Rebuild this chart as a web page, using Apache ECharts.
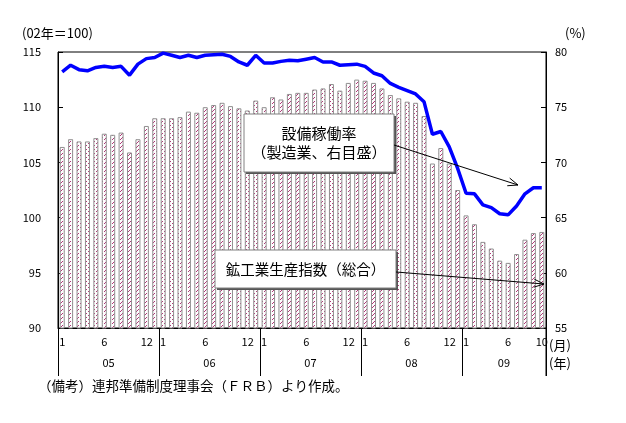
<!DOCTYPE html>
<html><head><meta charset="utf-8">
<script src="https://cdn.jsdelivr.net/npm/echarts@6/dist/echarts.min.js"></script>
<style>html,body{margin:0;padding:0;background:#fff}#c{width:626px;height:423px}</style>
</head><body><div id="c"></div>
<script>
// ---- data ----
const years = ['05', '06', '07', '08', '09'];
const monthsPerYear = [12, 12, 12, 12, 10];
const categories = [
  '2005/1','2005/2','2005/3','2005/4','2005/5','2005/6','2005/7','2005/8','2005/9','2005/10','2005/11','2005/12',
  '2006/1','2006/2','2006/3','2006/4','2006/5','2006/6','2006/7','2006/8','2006/9','2006/10','2006/11','2006/12',
  '2007/1','2007/2','2007/3','2007/4','2007/5','2007/6','2007/7','2007/8','2007/9','2007/10','2007/11','2007/12',
  '2008/1','2008/2','2008/3','2008/4','2008/5','2008/6','2008/7','2008/8','2008/9','2008/10','2008/11','2008/12',
  '2009/1','2009/2','2009/3','2009/4','2009/5','2009/6','2009/7','2009/8','2009/9','2009/10'
];
const shownMonths = ['1', '6', '12'];
const production = [
  106.4, 107.1, 106.9, 106.9, 107.2, 107.6, 107.5, 107.7, 105.9, 107.1, 108.3, 109.0,
  109.0, 109.0, 109.1, 109.6, 109.5, 110.0, 110.2, 110.4, 110.1, 109.9, 109.7, 110.6,
  110.0, 110.9, 110.7, 111.2, 111.3, 111.3, 111.6, 111.7, 112.1, 111.5, 112.2, 112.5,
  112.4, 112.2, 111.7, 111.1, 110.8, 110.5, 110.4, 109.2, 104.9, 106.3, 104.9, 102.5,
  100.2, 99.4, 97.8, 97.2, 96.1, 95.9, 96.7, 98.0, 98.6, 98.7
];
const utilization = [
  78.2, 78.8, 78.4, 78.3, 78.6, 78.7, 78.6, 78.7, 77.9, 78.9, 79.4, 79.5,
  79.9, 79.7, 79.5, 79.7, 79.5, 79.7, 79.75, 79.8, 79.6, 79.1, 78.8, 79.7,
  79.0, 79.0, 79.15, 79.25, 79.2, 79.35, 79.5, 79.1, 79.1, 78.8, 78.85, 78.9,
  78.7, 78.1, 77.85, 77.15, 76.8, 76.5, 76.2, 75.5, 72.55, 72.8, 71.4, 69.45,
  67.2, 67.15, 66.15, 65.9, 65.35, 65.25, 66.05, 67.15, 67.7, 67.7
];
const leftAxis = { min: 90, max: 115, interval: 5 };
const rightAxis = { min: 55, max: 80, interval: 5 };

// ---- style ----
const FONT = '"Noto Sans CJK JP", sans-serif';
function makePattern() {
  const c = document.createElement('canvas');
  c.width = 4; c.height = 4;
  const g = c.getContext('2d');
  g.fillStyle = '#ffffff'; g.fillRect(0, 0, 4, 4);
  g.fillStyle = '#b03a78';
  g.fillRect(0, 3, 1, 1); g.fillRect(1, 2, 1, 1); g.fillRect(2, 1, 1, 1);
  return c;
}

const chart = echarts.init(document.getElementById('c'), null, { renderer: 'canvas' });
const GL = 58, GR = 546, GT = 52, GB = 328;

function arrow(x1, y1, x2, y2) {
  const dx = x2 - x1, dy = y2 - y1, L = Math.hypot(dx, dy);
  const ux = dx / L, uy = dy / L, h = 10, w = 4;
  return [
    { type: 'line', shape: { x1, y1, x2, y2 }, style: { stroke: '#000', lineWidth: 1 }, z: 100 },
    { type: 'polyline', shape: { points: [
      [x2 - ux * h - uy * w, y2 - uy * h + ux * w], [x2, y2], [x2 - ux * h + uy * w, y2 - uy * h - ux * w]
    ] }, style: { stroke: '#000', lineWidth: 1, fill: null }, z: 100 }
  ];
}
function box(x, y, w, h, text, cy, fs) {
  return [
    { type: 'rect', shape: { x: x + 2, y: y + 2, width: w, height: h }, style: { fill: '#555' }, z: 99 },
    { type: 'rect', shape: { x, y, width: w, height: h }, style: { fill: '#fff', stroke: '#808080', lineWidth: 1 }, z: 100 },
    { type: 'text', x: x + w / 2, y: cy, z: 101, style: { text, font: fs + 'px ' + FONT, fill: '#000', align: 'center', verticalAlign: 'middle', lineHeight: 19 } }
  ];
}

const option = {
  animation: false,
  backgroundColor: '#fff',
  grid: { left: GL, right: 626 - GR, top: GT, bottom: 423 - GB, show: true, borderColor: '#000', borderWidth: 1, containLabel: false },
  xAxis: {
    type: 'category', data: categories, boundaryGap: true,
    axisLine: { show: true, lineStyle: { color: '#000' } },
    axisTick: { show: true, length: 48, lineStyle: { color: '#000' }, interval: (i) => i % 12 === 0 },
    axisLabel: {
      interval: (i, v) => shownMonths.includes(v.split('/')[1]) || i === categories.length - 1,
      formatter: (v) => { const m = v.split('/')[1]; return m === '12' ? '{d|' + m + '}' : m; },
      rich: { d: { padding: [0, 16, 0, 0], fontSize: 11, fontFamily: FONT, color: '#000' } },
      color: '#000', fontSize: 11, fontFamily: FONT, margin: 8
    },
    splitLine: { show: false }
  },
  yAxis: [
    { type: 'value', min: leftAxis.min, max: leftAxis.max, interval: leftAxis.interval, position: 'left',
      axisLine: { show: true, lineStyle: { color: '#000' } },
      axisTick: { show: true, inside: true, length: 5, lineStyle: { color: '#000' } },
      axisLabel: { color: '#000', fontSize: 11, fontFamily: FONT, margin: 17 },
      splitLine: { show: false } },
    { type: 'value', min: rightAxis.min, max: rightAxis.max, interval: rightAxis.interval, position: 'right',
      axisLine: { show: true, lineStyle: { color: '#000' } },
      axisTick: { show: true, inside: true, length: 5, lineStyle: { color: '#000' } },
      axisLabel: { color: '#000', fontSize: 11, fontFamily: FONT, margin: 9 },
      splitLine: { show: false } }
  ],
  series: [
    { type: 'bar', name: '鉱工業生産指数（総合）', data: production, yAxisIndex: 0, barWidth: 5,
      itemStyle: { color: { image: makePattern(), repeat: 'repeat' }, borderColor: '#909090', borderWidth: 1 } },
    { type: 'line', name: '設備稼働率（製造業、右目盛）', data: utilization, yAxisIndex: 1, symbol: 'none',
      lineStyle: { color: '#0000ff', width: 3.5 }, z: 5 }
  ],
  graphic: []
};
chart.setOption(option);

// year labels and separators from axis pixels
const g = [];
let start = 0;
years.forEach((y, k) => {
  const end = start + monthsPerYear[k] - 1;
  const x0 = chart.convertToPixel({ xAxisIndex: 0 }, categories[start]);
  const x1 = chart.convertToPixel({ xAxisIndex: 0 }, categories[end]);
  g.push({ type: 'text', x: (x0 + x1) / 2, y: 363, style: { text: y, font: '11px ' + FONT, fill: '#000', align: 'center', verticalAlign: 'middle' } });
  start = end + 1;
});
g.push({ type: 'line', shape: { x1: GR, y1: GB, x2: GR, y2: GB + 48 }, style: { stroke: '#000', lineWidth: 1 } });
g.push({ type: 'text', x: 22, y: 33, style: { text: '(02年＝100)', font: '13px ' + FONT, fill: '#000', verticalAlign: 'middle' } });
g.push({ type: 'text', x: 565, y: 33, style: { text: '(%)', font: '13px ' + FONT, fill: '#000', verticalAlign: 'middle' } });
g.push({ type: 'text', x: 549, y: 345, style: { text: '(月)', font: '13px ' + FONT, fill: '#000', verticalAlign: 'middle' } });
g.push({ type: 'text', x: 549, y: 363, style: { text: '(年)', font: '13px ' + FONT, fill: '#000', verticalAlign: 'middle' } });
g.push({ type: 'text', x: 38, y: 386, style: { text: '（備考）連邦準備制度理事会（ＦＲＢ）より作成。', font: '13.5px ' + FONT, fill: '#000', verticalAlign: 'middle' } });
g.push(...box(244, 114, 150, 58, '設備稼働率\n（製造業、右目盛）', 143, 15));
g.push(...arrow(394, 145, 518, 185));
g.push(...box(215, 250, 181, 38, '鉱工業生産指数（総合）', 269, 14.5));
g.push(...arrow(396, 272, 544, 284));
chart.setOption({ graphic: g });
</script>
</body></html>
